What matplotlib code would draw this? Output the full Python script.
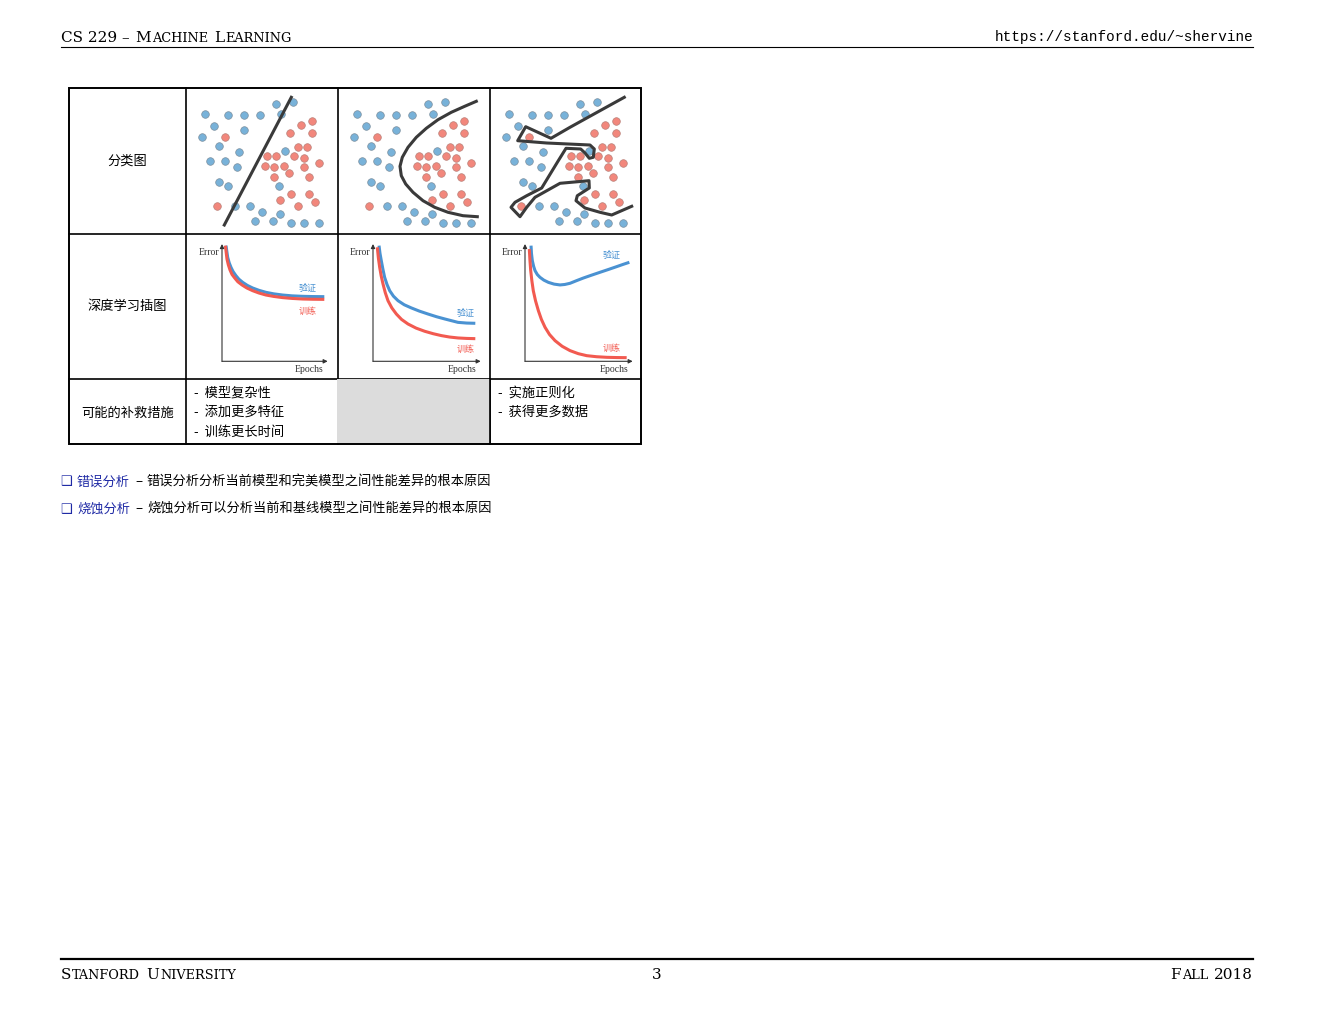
import matplotlib
matplotlib.use('Agg')
import matplotlib.pyplot as plt
from matplotlib.patches import Rectangle

# ---------------- data ----------------
# classification scatter (feature 1, feature 2)
blue_x1 = [90.0, 107.3, 19.0, 41.7, 57.7, 73.7, 95.0, 27.7, 57.7, 15.7, 33.3, 53.0, 24.0, 38.7,
           50.7, 99.3, 32.7, 41.7, 93.0, 49.3, 64.0, 76.3, 94.3, 68.7, 86.7, 105.3, 117.7, 133.0]
blue_x2 = [130.3, 132.3, 120.3, 119.3, 119.3, 119.3, 120.3, 108.0, 103.7, 97.3, 88.0, 81.7, 73.0, 73.0,
           67.0, 82.7, 52.0, 47.7, 47.7, 27.7, 27.7, 21.7, 20.3, 13.0, 13.0, 11.3, 11.3, 11.3]
red_x1 = [115.3, 125.7, 103.7, 125.7, 38.7, 111.7, 120.7, 81.3, 90.3, 108.3, 117.7, 132.7, 78.7,
          88.0, 98.0, 117.7, 103.0, 88.0, 122.7, 105.0, 122.7, 94.0, 129.3, 111.7, 30.7]
red_x2 = [109.0, 112.7, 100.7, 101.0, 97.3, 87.3, 87.3, 78.0, 78.0, 78.0, 76.3, 70.7, 68.3,
          67.0, 68.3, 67.0, 61.0, 57.3, 57.3, 39.7, 39.7, 34.3, 32.3, 27.7, 27.7]

# decision boundaries
lin_x1 = [38.3, 105.3]
lin_x2 = [9.0, 136.7]
quad_x1 = [138.3, 126.7, 113.3, 100.0, 88.3, 78.3, 70.0, 64.3, 62.0, 63.3, 67.7, 75.0, 85.0,
           96.7, 110.0, 125.0, 139.3]
quad_x2 = [132.7, 127.7, 121.7, 114.3, 105.7, 96.7, 86.7, 76.7, 67.7, 58.3, 50.0, 41.7, 33.3,
           26.7, 21.7, 18.3, 17.3]
over_x1 = [134.3, 110.0, 80.0, 61.0, 35.7, 27.7, 56.7, 100.0, 104.3, 103.3, 99.3, 95.0, 90.7,
           76.0, 68.3, 51.7, 36.7, 25.0, 21.0, 30.0, 36.7, 45.0, 70.0, 99.0, 99.3, 87.3, 86.0,
           95.0, 110.0, 121.7, 141.7]
over_x2 = [136.7, 123.3, 106.7, 95.7, 107.3, 93.3, 91.0, 89.0, 85.0, 76.7, 75.7, 81.0, 85.0,
           85.7, 73.3, 46.0, 38.3, 31.7, 26.7, 17.3, 26.7, 36.7, 50.7, 53.3, 46.0, 38.3, 33.3,
           26.0, 21.7, 19.0, 27.7]

# learning curves (epochs, error), normalised
under_val_e = [0.038, 0.046, 0.054, 0.068, 0.085, 0.105, 0.132, 0.160, 0.196, 0.240, 0.290, 0.350, 0.416, 0.490, 0.574, 0.663, 0.763, 0.860, 0.968]
under_val_y = [0.986, 0.935, 0.886, 0.840, 0.801, 0.765, 0.730, 0.700, 0.673, 0.647, 0.625, 0.605, 0.588, 0.575, 0.565, 0.558, 0.554, 0.552, 0.551]
under_trn_e = [0.032, 0.040, 0.047, 0.060, 0.076, 0.095, 0.123, 0.150, 0.189, 0.235, 0.290, 0.350, 0.416, 0.490, 0.574, 0.663, 0.763, 0.860, 0.968]
under_trn_y = [0.986, 0.925, 0.872, 0.822, 0.778, 0.740, 0.707, 0.678, 0.651, 0.625, 0.602, 0.582, 0.565, 0.553, 0.543, 0.536, 0.531, 0.529, 0.528]

right_val_e = [0.056, 0.065, 0.077, 0.092, 0.108, 0.130, 0.155, 0.190, 0.232, 0.290, 0.356, 0.430, 0.511, 0.590, 0.666, 0.789, 0.870, 0.950]
right_val_y = [0.986, 0.920, 0.858, 0.785, 0.716, 0.655, 0.602, 0.555, 0.517, 0.482, 0.455, 0.428, 0.403, 0.380, 0.361, 0.332, 0.326, 0.324]
right_trn_e = [0.040, 0.050, 0.062, 0.076, 0.093, 0.114, 0.139, 0.175, 0.217, 0.265, 0.325, 0.400, 0.480, 0.560, 0.635, 0.710, 0.789, 0.870, 0.950]
right_trn_y = [0.972, 0.880, 0.801, 0.728, 0.659, 0.585, 0.517, 0.455, 0.403, 0.357, 0.318, 0.283, 0.256, 0.235, 0.219, 0.207, 0.199, 0.195, 0.193]

over_val_e = [0.056, 0.060, 0.068, 0.080, 0.093, 0.114, 0.139, 0.175, 0.217, 0.270, 0.325, 0.370, 0.418, 0.480, 0.542, 0.620, 0.697, 0.775, 0.851, 0.910, 0.969]
over_val_y = [0.986, 0.920, 0.858, 0.810, 0.773, 0.740, 0.716, 0.692, 0.673, 0.658, 0.651, 0.655, 0.665, 0.688, 0.710, 0.735, 0.759, 0.783, 0.807, 0.826, 0.844]
over_trn_e = [0.040, 0.046, 0.053, 0.064, 0.077, 0.098, 0.124, 0.152, 0.186, 0.228, 0.279, 0.345, 0.418, 0.495, 0.573, 0.665, 0.759, 0.850, 0.944]
over_trn_y = [0.957, 0.860, 0.773, 0.685, 0.602, 0.515, 0.432, 0.358, 0.290, 0.228, 0.176, 0.128, 0.091, 0.065, 0.048, 0.039, 0.034, 0.032, 0.031]

row_labels = ['分类图', '深度学习插图', '可能的补救措施']
remedies_under = ['-  模型复杂性', '-  添加更多特征', '-  训练更长时间']
remedies_over = ['-  实施正则化', '-  获得更多数据']
curve_val_label = '验证'
curve_trn_label = '训练'
notes = [('错误分析', '错误分析分析当前模型和完美模型之间性能差异的根本原因'),
         ('烧蚀分析', '烧蚀分析可以分析当前和基线模型之间性能差异的根本原因')]

# ---------------- figure ----------------
W, H = 1320, 1020
fig = plt.figure(figsize=(W / 100, H / 100), dpi=100)
page = fig.add_axes([0, 0, 1, 1])
page.set_xlim(0, W)
page.set_ylim(H, 0)
page.axis('off')

CJK = ['Noto Sans CJK SC', 'DejaVu Sans']
SERIF = 'Liberation Serif'
HEAD = 'DejaVu Serif'
BLUE_PT = '#78b2d9'
RED_PT = '#f2877c'
BLUE_LN = '#4a92d2'
RED_LN = '#f25a50'
DARK = '#3a3a3a'
NAVY = '#1f2aa5'

renderer = fig.canvas.get_renderer()


def px_axes(x0, y0, x1, y1):
    return fig.add_axes([x0 / W, 1 - y1 / H, (x1 - x0) / W, (y1 - y0) / H])


def small_caps(x, y, pieces, ha='left', big=11.0, small=9.3, **kw):
    texts = []
    cx = x
    for s in pieces:
        if s == ' ':
            cx += 0.33 * big * 100 / 72
            continue
        size = big if s.startswith('!') else small
        s = s.lstrip('!')
        t = page.text(cx, y, s, fontsize=size, va='baseline', ha='left', family=HEAD,
                      fontweight='light', **kw)
        bb = t.get_window_extent(renderer)
        cx += bb.width + 1.0
        texts.append(t)
    if ha == 'right':
        shift = cx - 1.0 - x
        for t in texts:
            px, py = t.get_position()
            t.set_x(px - shift)


# header
small_caps(61, 42, ['!CS 229 –', ' ', '!M', 'ACHINE', ' ', '!L', 'EARNING'])
page.text(1253, 41, 'https://stanford.edu/~shervine', family='Liberation Mono', fontsize=10.4,
          ha='right', va='baseline')
page.plot([61, 1253], [48, 48], color='black', lw=0.8)

# footer
page.plot([61, 1253], [960, 960], color='black', lw=1.6)
small_caps(61, 979, ['!S', 'TANFORD', ' ', '!U', 'NIVERSITY'])
page.text(657, 979, '3', family=HEAD, fontsize=11.0, ha='center', va='baseline')
small_caps(1253, 979, ['!F', 'ALL', ' ', '!2018'], ha='right')

# table grid
TL, TR, TT, TB = 69, 641, 89, 445
cols = [186, 338, 490]
rows = [235, 380]
for cx in cols:
    page.plot([cx, cx], [TT, TB], color='black', lw=1.2, zorder=2)
for ry in rows:
    page.plot([TL, TR], [ry, ry], color='black', lw=1.2, zorder=2)
page.add_patch(Rectangle((337.4, 380), 152.2, 65, facecolor='#dcdcdc', edgecolor='none', zorder=3))
page.plot([490, 490], [380, TB], color='black', lw=1.2, zorder=4)
page.add_patch(Rectangle((TL, TT), TR - TL, TB - TT, fill=False, edgecolor='black', lw=1.4, zorder=5))

row_centers = [161, 306, 413]
for lab, yc in zip(row_labels, row_centers):
    page.text(127.5, yc, lab, family=CJK, fontsize=9.5, ha='center', va='center')

for i, s in enumerate(remedies_under):
    page.text(194, 393 + 19.5 * i, s, family=CJK, fontsize=9.5, ha='left', va='center')
for i, s in enumerate(remedies_over):
    page.text(498, 393 + 19.5 * i, s, family=CJK, fontsize=9.5, ha='left', va='center')

# classification panels
boundaries = [(lin_x1, lin_x2), (quad_x1, quad_x2), (over_x1, over_x2)]
for cx, (bx, by) in zip(cols, boundaries):
    ax = px_axes(cx, 90, cx + 152, 235)
    ax.set_xlim(0, 152)
    ax.set_ylim(0, 145)
    ax.axis('off')
    ax.scatter(blue_x1, blue_x2, s=30, color=BLUE_PT, edgecolors='#7b8f9e', linewidths=0.5, zorder=2)
    ax.scatter(red_x1, red_x2, s=30, color=RED_PT, edgecolors='#b98079', linewidths=0.5, zorder=2)
    ax.plot(bx, by, color=DARK, lw=2.2, solid_joinstyle='round', zorder=3)

# learning-curve panels
curve_sets = [
    (under_val_e, under_val_y, under_trn_e, under_trn_y, (308, 288), (308, 311)),
    (right_val_e, right_val_y, right_trn_e, right_trn_y, (466, 313), (466, 349)),
    (over_val_e, over_val_y, over_trn_e, over_trn_y, (612, 255), (612, 348)),
]
origins = [(222, 327.7), (373, 480.7), (525, 632.7)]
for (ox, xe), (ve, vy, te, ty, vlab, tlab) in zip(origins, curve_sets):
    ax = px_axes(ox, 245, xe, 362.3)
    ax.set_xlim(0, 1)
    ax.set_ylim(0, 1)
    ax.axis('off')
    ax.annotate('', xy=(1, 0), xytext=(0, 0), xycoords='axes fraction',
                arrowprops=dict(arrowstyle='-|>', lw=0.8, color='#333333', mutation_scale=6,
                                shrinkA=0, shrinkB=0))
    ax.annotate('', xy=(0, 1), xytext=(0, 0), xycoords='axes fraction',
                arrowprops=dict(arrowstyle='-|>', lw=0.8, color='#333333', mutation_scale=6,
                                shrinkA=0, shrinkB=0))
    ax.plot(ve, vy, color=BLUE_LN, lw=2.2, clip_on=False, solid_capstyle='butt')
    ax.plot(te, ty, color=RED_LN, lw=2.2, clip_on=False, solid_capstyle='butt')
    page.text(vlab[0], vlab[1], curve_val_label, family=CJK, fontsize=6.5, color=BLUE_LN,
              ha='center', va='center', zorder=6)
    page.text(tlab[0], tlab[1], curve_trn_label, family=CJK, fontsize=6.5, color=RED_LN,
              ha='center', va='center', zorder=6)
    page.text(ox - 3, 252.5, 'Error', family=SERIF, fontsize=7, ha='right', va='center',
              color='#333333')
    page.text(xe - 4, 370, 'Epochs', family=SERIF, fontsize=7, ha='right', va='center',
              color='#333333')

# notes
for i, (term, desc) in enumerate(notes):
    y = 482 + 27 * i
    page.text(60, y, '❑', family=['DejaVu Sans'], fontsize=9.5, color=NAVY, ha='left', va='center')
    page.text(77, y, term, family=CJK, fontsize=9.5, color=NAVY, ha='left', va='center')
    page.text(135, y, '–', family=CJK, fontsize=9.5, color='black', ha='left', va='center')
    page.text(147, y, desc, family=CJK, fontsize=9.5, color='black', ha='left', va='center')

fig.savefig('out.png', dpi=100)
